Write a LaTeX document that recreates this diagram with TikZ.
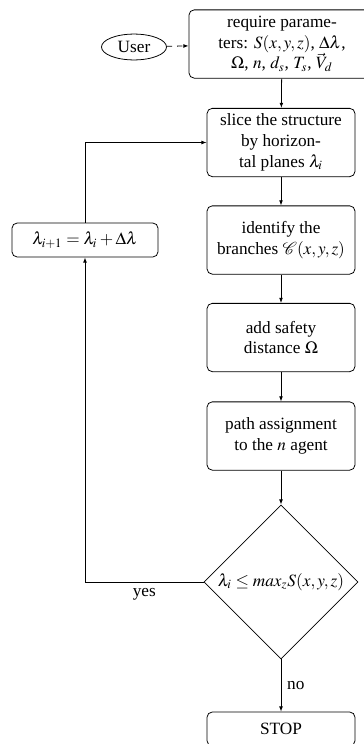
\documentclass[tikz,border=0pt]{standalone}
\usepackage{mathptmx}
\usepackage[no-math]{fontspec}
\setmainfont{Liberation Serif}
\usetikzlibrary{shapes.geometric,arrows.meta}

\tikzset{
  flow/.style={draw, rounded corners=3pt, align=center, inner sep=2pt,
    minimum width=85.8pt, minimum height=39.6pt},
  thinbox/.style={draw, rounded corners=3pt, align=center, inner sep=2pt,
    minimum width=84.7pt, minimum height=19.7pt},
  decision/.style={draw, diamond, inner sep=0pt, align=center,
    minimum width=89.3pt, minimum height=89.3pt},
  actor/.style={draw, ellipse, inner sep=1pt, minimum width=37.7pt, minimum height=15pt},
  link/.style={-{Latex[length=3pt,width=2.2pt]}, line width=0.45pt},
}

\begin{document}
\begin{tikzpicture}[x=0.58pt, y=-0.58pt, line width=0.45pt]
  \useasboundingbox (0,0) rectangle (364,744);
  \clip (0,0) rectangle (364,744);

  % main column
  \node[flow, minimum width=107.9pt] (req) at (282,44)
    {require parame-\\ters: $S(x,y,z)$, $\Delta\lambda$,\\$\Omega$, $n$, $d_s$, $T_s$, $\vec{V}_d$};
  \node[actor] (user) at (134,47) {User};
  \node[flow] (slice) at (281,142.5) {slice the structure\\by horizon-\\tal planes $\lambda_i$};
  \node[flow] (ident) at (281,240) {identify the\\branches $\mathcal{C}(x,y,z)$};
  \node[flow] (safe) at (281,337.5) {add safety\\distance $\Omega$};
  \node[flow] (assign) at (281,436) {path assignment\\to the $n$ agent};
  \node[decision] (test) at (281,582) {$\lambda_i \leq max_z S(x,y,z)$};
  \node[thinbox, minimum width=85.8pt] (stop) at (281,729) {STOP};

  % loop increment
  \node[thinbox] (incr) at (85,240) {$\lambda_{i+1}=\lambda_i+\Delta\lambda$};

  % connectors
  \draw[link, dashed] (user) -- (req);
  \draw[link] (req) -- (slice);
  \draw[link] (slice) -- (ident);
  \draw[link] (ident) -- (safe);
  \draw[link] (safe) -- (assign);
  \draw[link] (assign) -- (test);
  \draw[link] (test) -- node[right] {no} (stop);
  \draw[link] (test.west) -| node[below, pos=0.25] {yes} (incr.south);
  \draw[link] (incr.north) |- (slice.west);
\end{tikzpicture}
\end{document}
